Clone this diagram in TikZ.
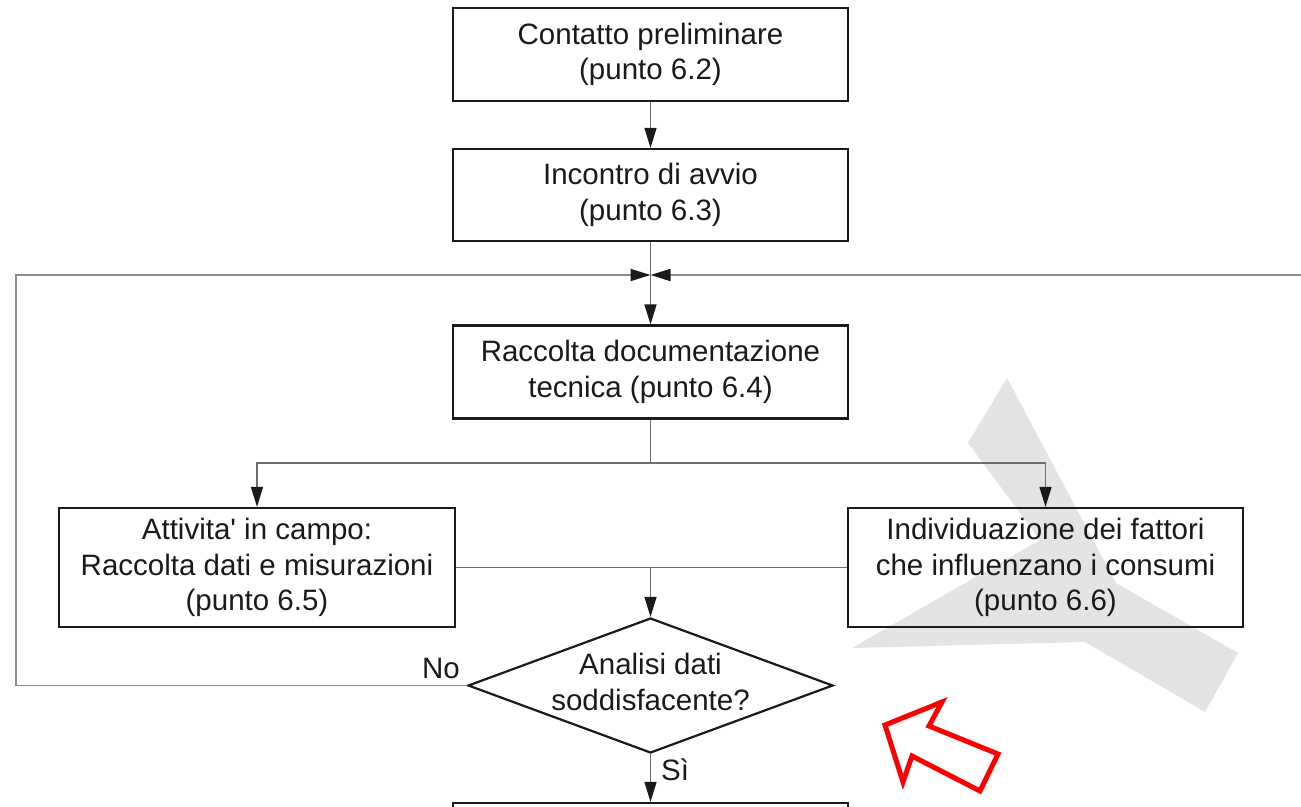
\documentclass[tikz,border=0pt]{standalone}
\usepackage{fontspec}
\setmainfont{Liberation Sans}[Ligatures=TeXOff]
\usetikzlibrary{arrows.meta,shapes.geometric}
\definecolor{ink}{HTML}{1A1A1A}
\definecolor{wire}{HTML}{6E6E6E}
\definecolor{loopc}{HTML}{8C8C8C}
\definecolor{wm}{HTML}{E4E4E4}
\definecolor{alert}{HTML}{FF0000}
\begin{document}
\begin{tikzpicture}[x=1pt,y=-1pt,
  txt/.style={text=ink,font=\fontsize{29.5}{35.5}\selectfont},
  procbox/.style={txt,draw=ink,line width=2.2pt,minimum width=395pt,minimum height=93pt,inner sep=0pt,align=center},
  decision/.style={diamond,draw=ink,line width=2.2pt,minimum width=365pt,minimum height=135pt,inner sep=0pt},
  tip/.style={-{Triangle[length=20pt,width=12pt,color=ink]}},
  wireline/.style={draw=wire,line width=1.4pt},
  flow/.style={wireline,tip},
  loopline/.style={draw=loopc,line width=1.8pt,tip},
  lbl/.style={txt,inner sep=0pt}]
\useasboundingbox (0,0) rectangle (1301,806);
\clip (0,0) rectangle (1301,806);
% watermark
\fill[wm] (1007,378) -- (1116,583) -- (1238,653) -- (1205,712) -- (1085,642) -- (852,648) -- (1040,540) -- (968,443) -- cycle;
% boxes
\node[procbox] (box1) at (650.5,54.5) {Contatto preliminare\\(punto 6.2)};
\node[procbox,minimum height=92pt] (box2) at (650.5,195) {Incontro di avvio\\(punto 6.3)};
\node[procbox] (box3) at (650.5,372) {Raccolta documentazione\\tecnica (punto 6.4)};
\node[procbox,minimum width=396pt,minimum height=119pt] (box4) at (257,567.5) {Attivita' in campo:\\Raccolta dati e misurazioni\\(punto 6.5)};
\node[procbox,minimum height=119pt] (box5) at (1045.5,567.5) {Individuazione dei fattori\\che influenzano i consumi\\(punto 6.6)};
\node[decision] (dec) at (650.5,685.5) {};
\node[txt,align=center,inner sep=0pt] (dectext) at (650.5,682) {Analisi dati\\soddisfacente?};
\node[procbox] (box6) at (650.5,849.5) {};
% coordinates
\coordinate (split) at (650.5,463);
\coordinate (merge) at (650.5,567.5);
\coordinate (join) at (650.5,275);
\coordinate (lc1) at (16,685.5);
\coordinate (lc2) at (16,275);
\coordinate (redge) at (1302,275);
% connectors
\draw[flow] (box1.south) -- (box2.north);
\draw[flow] (box2.south) -- (box3.north);
\draw[wireline] (box3.south) -- (split);
\draw[flow] (split) -| (box4.north);
\draw[flow] (split) -| (box5.north);
\draw[wireline] (box4.east) -- (box5.west);
\draw[flow] (merge) -- (dec.north);
\draw[flow] (dec.south) -- (box6.north);
\draw[loopline] (dec.west) -- (lc1) -- (lc2) -- (join);
\draw[loopline] (redge) -- (join);
% labels
\node[lbl] (nolbl) at (441,668) {No};
\node[lbl,anchor=west] (silbl) at (661,770) {Sì};
% red arrow
\draw[alert,line width=5pt,line join=miter] (885,725) -- (942,702) -- (929,726) -- (998,754) -- (980,791) -- (912,756) -- (903,782) -- cycle;
\end{tikzpicture}
\end{document}
